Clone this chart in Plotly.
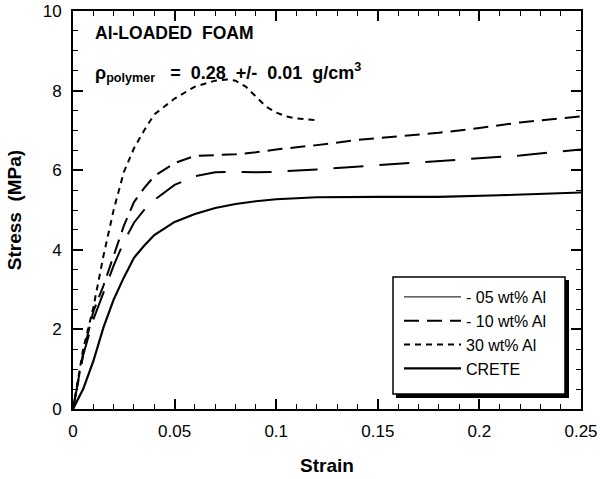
import plotly.graph_objects as go

# ---- data ----
strain_crete = [0, 0.005, 0.01, 0.015, 0.02, 0.025, 0.03, 0.035, 0.04, 0.05, 0.06, 0.07,
                0.08, 0.09, 0.1, 0.12, 0.15, 0.18, 0.21, 0.25]
stress_crete = [0, 0.5, 1.2, 2.05, 2.75, 3.3, 3.8, 4.1, 4.37, 4.7, 4.9, 5.05,
                5.15, 5.22, 5.27, 5.32, 5.33, 5.33, 5.37, 5.44]

strain_05 = [0, 0.005, 0.01, 0.015, 0.02, 0.025, 0.03, 0.035, 0.04, 0.05, 0.06, 0.07,
             0.08, 0.09, 0.1, 0.12, 0.14, 0.17, 0.2, 0.22, 0.25]
stress_05 = [0, 1.35, 2.25, 2.95, 3.6, 4.2, 4.68, 5.0, 5.25, 5.63, 5.85, 5.95,
             5.96, 5.95, 5.96, 6.02, 6.09, 6.2, 6.3, 6.37, 6.52]

strain_10 = [0, 0.005, 0.01, 0.015, 0.02, 0.025, 0.03, 0.035, 0.04, 0.05, 0.06, 0.07,
             0.08, 0.09, 0.1, 0.12, 0.14, 0.16, 0.18, 0.2, 0.22, 0.25]
stress_10 = [0, 1.4, 2.45, 3.1, 3.85, 4.6, 5.2, 5.55, 5.85, 6.18, 6.36, 6.38,
             6.4, 6.45, 6.52, 6.63, 6.76, 6.85, 6.94, 7.06, 7.2, 7.35]

strain_30 = [0, 0.005, 0.01, 0.015, 0.02, 0.025, 0.03, 0.035, 0.04, 0.05, 0.06, 0.07,
             0.076, 0.08, 0.085, 0.09, 0.095, 0.1, 0.105, 0.11, 0.115, 0.121]
stress_30 = [0, 1.5, 2.55, 3.85, 5.0, 5.95, 6.55, 7.0, 7.4, 7.8, 8.1, 8.25,
             8.28, 8.25, 8.1, 7.85, 7.6, 7.45, 7.35, 7.3, 7.28, 7.25]

series_names = ["- 05 wt% Al", "- 10 wt% Al", "30 wt% Al", "CRETE"]

x_range = [0, 0.25]
y_range = [0, 10]
x_tick_step = 0.05
x_minor_step = 0.01
y_tick_step = 2
y_minor_step = 0.5

FONT = "Liberation Sans, Arial, Helvetica, sans-serif"

# plot-area geometry (pixels)
L, T, R, B = 73, 11, 581, 409
PW, PH = R - L, B - T

def px_x(p):
    return (p - L) / PW
def px_y(p):
    return (B - p) / PH

fig = go.Figure()

# 05 wt% curve (drawn long-dashed in the reference; legend shows thin solid)
fig.add_trace(go.Scatter(x=strain_05, y=stress_05, mode="lines", showlegend=False,
                         line=dict(color="black", width=2, dash="30px,16px")))
fig.add_trace(go.Scatter(x=[None], y=[None], mode="lines", name=series_names[0] + "\u00a0\u00a0",
                         line=dict(color="black", width=1)))
fig.add_trace(go.Scatter(x=strain_10, y=stress_10, mode="lines", name=series_names[1],
                         line=dict(color="black", width=2, dash="15px,8px")))
fig.add_trace(go.Scatter(x=strain_30, y=stress_30, mode="lines", name=series_names[2],
                         line=dict(color="black", width=2, dash="6px,5px")))
fig.add_trace(go.Scatter(x=strain_crete, y=stress_crete, mode="lines", name=series_names[3],
                         line=dict(color="black", width=2.2)))

axis_common = dict(
    showline=True, linecolor="black", linewidth=2, mirror="ticks",
    ticks="inside", ticklen=10, tickwidth=1.5, tickcolor="black",
    showgrid=False, zeroline=False, automargin=False,
    tickfont=dict(family=FONT, size=17, color="black"),
)

fig.update_xaxes(range=x_range, tickmode="linear", tick0=0, dtick=x_tick_step,
                 minor=dict(dtick=x_minor_step, ticks="inside", ticklen=5,
                            tickcolor="black", tickwidth=1.3, showgrid=False),
                 title=dict(text="<b>Strain</b>", font=dict(family=FONT, size=19, color="black"), standoff=18),
                 ticklabelstandoff=6, **axis_common)
fig.update_yaxes(range=y_range, tickmode="linear", tick0=0, dtick=y_tick_step,
                 minor=dict(dtick=y_minor_step, ticks="inside", ticklen=5,
                            tickcolor="black", tickwidth=1.3, showgrid=False),
                 title=dict(text="<b>Stress&nbsp;&nbsp;(MPa)</b>", font=dict(family=FONT, size=19, color="black"), standoff=16),
                 ticklabelstandoff=6, **axis_common)

# annotations
fig.add_annotation(x=0.0098, y=9.45, xref="x", yref="y", xanchor="left", yanchor="middle",
                   text="<b>Al-LOADED&nbsp;&nbsp;FOAM</b>", showarrow=False,
                   font=dict(family=FONT, size=17.5, color="black"))
fig.add_annotation(x=0.0098, y=8.45, xref="x", yref="y", xanchor="left", yanchor="middle",
                   text="<b>ρ<sub>polymer</sub>&nbsp;&nbsp;&nbsp;=&nbsp;&nbsp;0.28&nbsp;&nbsp;+/-&nbsp;&nbsp;0.01&nbsp;&nbsp;g/cm<sup>3</sup></b>",
                   showarrow=False, font=dict(family=FONT, size=18, color="black"))

# legend frame with drop shadow
fig.add_shape(type="rect", xref="paper", yref="paper",
              x0=px_x(396), x1=px_x(569), y0=px_y(398), y1=px_y(280),
              fillcolor="black", line=dict(width=0), layer="above")
fig.add_shape(type="rect", xref="paper", yref="paper",
              x0=px_x(393), x1=px_x(565), y0=px_y(394), y1=px_y(277),
              fillcolor="white", line=dict(color="black", width=1.5), layer="above")

fig.update_layout(
    width=600, height=479,
    margin=dict(l=L, r=600 - R, t=T, b=479 - B, autoexpand=False),
    paper_bgcolor="white", plot_bgcolor="white",
    font=dict(family=FONT, color="black"),
    legend=dict(x=px_x(399), y=px_y(280), xanchor="left", yanchor="top",
                bgcolor="rgba(0,0,0,0)", borderwidth=0,
                font=dict(family=FONT, size=16, color="black"),
                itemwidth=57, tracegroupgap=0),
)

fig.write_html("out.html")
